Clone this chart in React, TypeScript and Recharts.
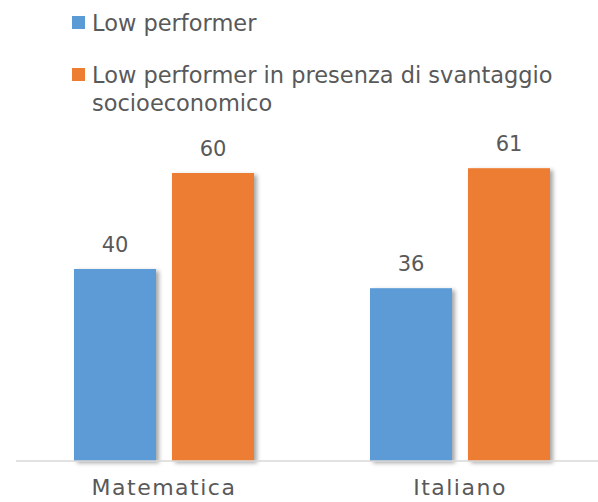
import { BarChart, Bar, XAxis, YAxis, LabelList } from "recharts";

const categories = ["Matematica", "Italiano"];
const lowPerformer = [40, 36];
const lowPerformerSvantaggio = [60, 61];
const seriesNames = [
  "Low performer",
  "Low performer in presenza di svantaggio socioeconomico",
];
const seriesKeys = ["low", "lowSv"];
const seriesColors = ["#5B9BD5", "#ED7D31"];

const data = categories.map((name, i) => ({
  name,
  low: lowPerformer[i],
  lowSv: lowPerformerSvantaggio[i],
}));

const FONT = "'DejaVu Sans', sans-serif";
const TEXT = "#595959";

const ShadowBar = (props: any) => {
  const { x, y, width, height, fill } = props;
  return (
    <rect x={x} y={y} width={width} height={height} fill={fill} filter="url(#barShadow)" />
  );
};

const TopLegend = () => (
  <div style={{ position: "absolute", left: 72, top: 9, fontFamily: FONT, color: TEXT }}>
    {seriesNames.map((name, i) => (
      <div key={name} style={{ display: "flex", alignItems: "flex-start", marginBottom: 24 }}>
        <span
          style={{
            width: 13,
            height: 13,
            marginTop: 7,
            marginRight: 7,
            background: seriesColors[i],
            flexShrink: 0,
          }}
        />
        <span style={{ fontSize: 22.5, lineHeight: "28px", maxWidth: 485 }}>{name}</span>
      </div>
    ))}
  </div>
);

export default function App() {
  return (
    <div
      style={{
        position: "absolute",
        left: 0,
        top: 0,
        width: 598,
        height: 502,
        overflow: "hidden",
        background: "#fff",
      }}
    >
      <svg width={0} height={0} style={{ position: "absolute" }}>
        <defs>
          <filter id="barShadow" x="-20%" y="-10%" width="150%" height="130%">
            <feDropShadow dx={3} dy={2} stdDeviation={2} floodColor="#000" floodOpacity={0.35} />
          </filter>
        </defs>
      </svg>
      <TopLegend />
      <BarChart
        width={616}
        height={502}
        data={data}
        margin={{ top: 125, right: 8, left: 16, bottom: 0 }}
        barGap={16}
      >
        <XAxis
          dataKey="name"
          height={41}
          interval={0}
          axisLine={{ stroke: "#d9d9d9", strokeWidth: 1.5 }}
          tickLine={false}
          tickMargin={12}
          tick={{ fill: TEXT, fontSize: 22, fontFamily: FONT, letterSpacing: 1.5 }}
        />
        <YAxis hide domain={[0, 70]} />
        {seriesKeys.map((key, i) => (
          <Bar
            key={key}
            dataKey={key}
            name={seriesNames[i]}
            fill={seriesColors[i]}
            barSize={82}
            shape={ShadowBar}
            isAnimationActive={false}
          >
            <LabelList
              dataKey={key}
              position="top"
              offset={17}
              fill={TEXT}
              fontSize={21}
              fontFamily={FONT}
            />
          </Bar>
        ))}
      </BarChart>
    </div>
  );
}
